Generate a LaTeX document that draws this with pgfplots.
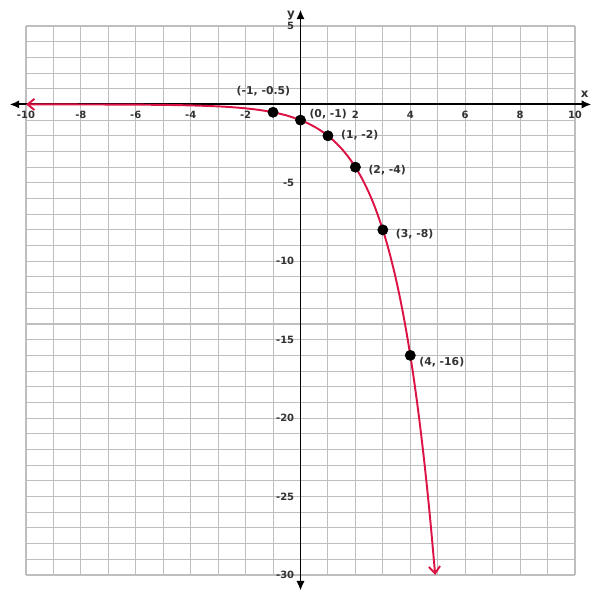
\documentclass[border=0pt]{standalone}
\usepackage{pgfplots}
\pgfplotsset{compat=1.18}
\usepackage{fontspec}
\setmainfont{DejaVu Sans}
\usetikzlibrary{arrows.meta}
\definecolor{curve}{RGB}{220,20,70}
\definecolor{txt}{RGB}{50,50,50}
\definecolor{gridc}{RGB}{190,190,190}
\begin{document}
\begin{tikzpicture}
\begin{axis}[
  scale only axis,
  width=395.28pt, height=395.28pt,
  xmin=-10, xmax=10, ymin=-30, ymax=5,
  axis lines=middle,
  clip=false,
  axis line style={draw=none},
  xtick={-10,-8,-6,-4,-2,2,4,6,8,10},
  ytick={-30,-25,-20,-15,-10,-5,5},
  minor xtick={-10,-9,...,10},
  minor ytick={-30,-29,...,5},
  grid=minor,
  minor grid style={draw=gridc, line width=0.75pt},
  major tick length=0pt, minor tick length=0pt,
  tick style={draw=none},
  xticklabel style={font=\fontsize{7.2}{8}\selectfont\bfseries, text=txt, yshift=-1pt},
  yticklabel style={font=\fontsize{7.2}{8}\selectfont\bfseries, text=txt, xshift=-1pt},
  /pgf/number format/assume math mode=true,
]
% invisible frame setting the page size
\path (axis cs:-10.947,6.657) rectangle (axis cs:10.911,-31.593);
% axes
\draw[black, line width=1.4pt, {Latex[length=7pt,width=6pt]}-{Latex[length=7pt,width=6pt]}] (axis cs:-10.6,0) -- (axis cs:10.6,0);
\draw[black, line width=1.4pt, {Latex[length=7pt,width=6pt]}-{Latex[length=7pt,width=6pt]}] (axis cs:0,-31) -- (axis cs:0,6.05);
\node[font=\fontsize{8.5}{9}\selectfont\bfseries, text=txt] at (axis cs:10.35,0.65) {x};
\node[font=\fontsize{8.5}{9}\selectfont\bfseries, text=txt] at (axis cs:-0.35,5.65) {y};
% curve
\addplot[curve, line width=1.4pt, smooth, {Straight Barb[length=5pt,width=8pt]}-{Straight Barb[length=5pt,width=8pt]}] coordinates {
(-10,-0.000977) (-9,-0.00195) (-8,-0.0039) (-7,-0.0078) (-6,-0.0156) (-5,-0.03125) (-4,-0.0625)
(-3,-0.125) (-2.5,-0.1768) (-2,-0.25) (-1.5,-0.3536) (-1,-0.5) (-0.5,-0.7071)
(0,-1) (0.25,-1.1892) (0.5,-1.4142) (0.75,-1.6818) (1,-2) (1.25,-2.3784) (1.5,-2.8284) (1.75,-3.3636) (2,-4)
(2.25,-4.7568) (2.5,-5.6569) (2.75,-6.7272) (3,-8)
(3.125,-8.7241) (3.25,-9.5137) (3.375,-10.3747) (3.5,-11.3137) (3.625,-12.3377) (3.75,-13.4543) (3.875,-14.6721) (4,-16)
(4.125,-17.4481) (4.25,-19.0273) (4.375,-20.7494) (4.5,-22.6274) (4.625,-24.6754) (4.75,-26.9087) (4.907,-30.0)
};
% points
\addplot[only marks, mark=*, mark size=3.7pt, black] coordinates {
(-1,-0.5) (0,-1) (1,-2) (2,-4) (3,-8) (4,-16)
};
\begin{scope}[every node/.style={font=\fontsize{7.8}{9}\selectfont\bfseries, text=txt}]
\node[anchor=south] at (axis cs:-1.35,0.2) {(-1, -0.5)};
\node[anchor=west] at (axis cs:0.15,-0.6) {(0, -1)};
\node[anchor=west] at (axis cs:1.3,-1.95) {(1, -2)};
\node[anchor=west] at (axis cs:2.3,-4.2) {(2, -4)};
\node[anchor=west] at (axis cs:3.3,-8.3) {(3, -8)};
\node[anchor=west] at (axis cs:4.15,-16.4) {(4, -16)};
\end{scope}
\end{axis}
\end{tikzpicture}
\end{document}
